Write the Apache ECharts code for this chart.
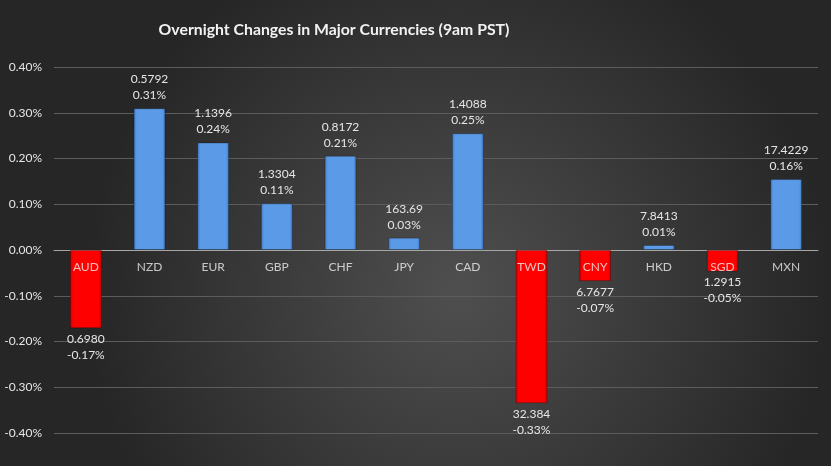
<!DOCTYPE html>
<html><head><meta charset="utf-8">
<script src="https://cdn.jsdelivr.net/npm/echarts@6/dist/echarts.min.js"></script>
<style>html,body{margin:0;padding:0;background:#3a3a3a}#c{width:831px;height:466px}</style>
</head><body><div id="c"></div>
<script>
const categories = ['AUD','NZD','EUR','GBP','CHF','JPY','CAD','TWD','CNY','HKD','SGD','MXN'];
const changes = [-0.171, 0.310, 0.235, 0.102, 0.206, 0.027, 0.255, -0.335, -0.068, 0.011, -0.047, 0.155];
const rates = ['0.6980','0.5792','1.1396','1.3304','0.8172','163.69','1.4088','32.384','6.7677','7.8413','1.2915','17.4229'];
const pctLabels = ['-0.17%','0.31%','0.24%','0.11%','0.21%','0.03%','0.25%','-0.33%','-0.07%','0.01%','-0.05%','0.16%'];
const yTicks = { min: -0.4, max: 0.4, interval: 0.1 };

const font = 'Lato, "Open Sans", sans-serif';
const blue = {type:'linear',x:0,y:0,x2:1,y2:0,colorStops:[{offset:0,color:'#3f7bc8'},{offset:0.1,color:'#5a9ae6'},{offset:0.9,color:'#5a9ae6'},{offset:1,color:'#3f7bc8'}]};
const red = {type:'linear',x:0,y:0,x2:1,y2:0,colorStops:[{offset:0,color:'#c80000'},{offset:0.1,color:'#ff0000'},{offset:0.9,color:'#ff0000'},{offset:1,color:'#c80000'}]};

const data = changes.map((v,i)=>({
  value: v,
  itemStyle: { color: v >= 0 ? blue : red },
  label: { position: v >= 0 ? 'top' : 'bottom', distance: v >= 0 ? 5 : 3 }
}));

const chart = echarts.init(document.getElementById('c'));
chart.setOption({
  animation: false,
  backgroundColor: {type:'radial',x:0.55,y:0.62,r:0.8,colorStops:[{offset:0,color:'#4f4f4f'},{offset:1,color:'#262626'}]},
  title: {
    text: 'Overnight Changes in Major Currencies (9am PST)',
    left: 329, top: 17, textAlign: 'center',
    textStyle: { color: '#f2f2f2', fontFamily: font, fontWeight: 'bold', fontSize: 15.8 }
  },
  grid: { left: 54, right: 13, top: 67, bottom: 33, containLabel: false },
  xAxis: {
    type: 'category', data: categories,
    axisLine: { onZero: true, lineStyle: { color: '#a6a6a6', width: 1 } },
    axisTick: { show: false },
    axisLabel: { show: false }
  },
  yAxis: {
    type: 'value', min: yTicks.min, max: yTicks.max, interval: yTicks.interval,
    axisLine: { show: false }, axisTick: { show: false },
    splitLine: { lineStyle: { color: '#5c5c5c', width: 1 } },
    axisLabel: { color: '#e6e6e6', fontFamily: font, fontSize: 12, margin: 12,
      formatter: v => v.toFixed(2) + '%' }
  },
  series: [{
    type: 'bar', data: data, barWidth: '50%',
    itemStyle: { borderColor: 'rgba(0,0,0,0.25)', borderWidth: 1 },
    label: {
      show: true, color: '#e6e6e6', fontFamily: font, fontSize: 12, lineHeight: 16,
      formatter: p => rates[p.dataIndex] + '\n' + pctLabels[p.dataIndex]
    }
  }, {
    type: 'scatter', data: categories.map(c => [c, 0]), symbolSize: 2, z: 10,
    silent: true,
    itemStyle: { color: 'rgba(0,0,0,0)' },
    label: { show: true, position: 'bottom', distance: 10, color: '#eeeeee', fontFamily: font, fontSize: 12,
      formatter: p => categories[p.dataIndex] }
  }]
});
</script></body></html>
